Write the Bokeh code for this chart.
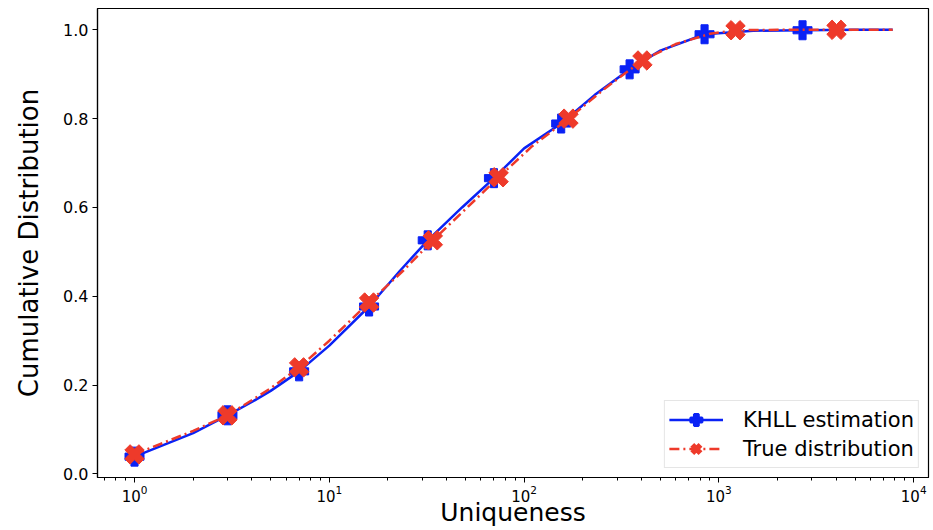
import numpy as np
from bokeh.plotting import figure
from bokeh.models import (Range1d, FixedTicker, PrintfTickFormatter, LogTickFormatter,
                          Legend, LegendItem)
from bokeh.embed import file_html
from bokeh.resources import INLINE

# KHLL estimation curve (solid blue)
khll_x = [1, 2, 3, 4, 5, 7, 10, 16, 23, 32, 48, 70, 100, 155, 230, 348, 500, 844, 1500, 2687, 5000, 7800]
khll_y = [0.039, 0.092, 0.132, 0.162, 0.187, 0.231, 0.289, 0.377, 0.457, 0.526, 0.600, 0.666, 0.733, 0.789, 0.853, 0.911, 0.953, 0.990, 0.998, 0.999, 1.0, 1.0]
# KHLL markers
khll_mx = [1, 3, 7, 16, 32, 70, 155, 348, 844, 2687]
khll_my = [0.039, 0.132, 0.231, 0.377, 0.526, 0.666, 0.789, 0.911, 0.990, 0.999]

# True distribution curve (dash-dot red)
true_x = [1, 2, 3, 4, 5, 7, 10, 16, 24, 34, 50, 74, 110, 169, 260, 405, 600, 900, 1217, 2000, 4016, 7800]
true_y = [0.044, 0.097, 0.132, 0.166, 0.193, 0.240, 0.300, 0.386, 0.458, 0.526, 0.596, 0.668, 0.738, 0.800, 0.868, 0.931, 0.968, 0.991, 0.999, 1.0, 1.0, 1.0]
# True distribution markers
true_mx = [1, 3, 7, 16, 34, 74, 169, 405, 1217, 4016]
true_my = [0.044, 0.132, 0.240, 0.386, 0.526, 0.668, 0.800, 0.931, 0.999, 1.0]

y_ticks = [0.0, 0.2, 0.4, 0.6, 0.8, 1.0]
x_ticks = [1, 10, 100, 1000, 10000]
series_names = ["KHLL estimation", "True distribution"]

BLUE = "#0a22f5"
RED = "#ee3a2a"
FONT = "DejaVu Sans"

p = figure(width=933, height=530, x_axis_type="log",
           x_range=Range1d(10 ** -0.19, 10 ** 4.076),
           y_range=Range1d(-0.008, 1.048),
           output_backend="svg", toolbar_location=None,
           min_border_left=97, min_border_right=5,
           min_border_top=8, min_border_bottom=53)

p.background_fill_color = "white"
p.border_fill_color = "white"
p.outline_line_color = "black"
p.outline_line_width = 1.2
p.xgrid.visible = False
p.ygrid.visible = False

b_line = p.line(khll_x, khll_y, line_color=BLUE, line_width=2.5)
p.scatter(khll_mx, khll_my, marker="plus", size=19, fill_color=BLUE, line_color=BLUE,
          line_width=1)
r_line = p.line(true_x, true_y, line_color=RED, line_width=2.5, line_dash="10 4 2 4")
p.scatter(true_mx, true_my, marker="plus", size=20, angle=np.pi / 4, fill_color=RED,
          line_color=RED, line_width=1)

# legend-only marker renderers (NaN position: nothing drawn inside the plot)
b_leg = p.scatter([np.nan], [np.nan], marker="plus", fill_color=BLUE, line_color=BLUE,
                  line_width=2.5)
r_leg = p.scatter([np.nan], [np.nan], marker="x", line_color=RED, line_width=5.5)

legend = Legend(items=[LegendItem(label=series_names[0], renderers=[b_line, b_leg]),
                       LegendItem(label=series_names[1], renderers=[r_line, r_leg])])
p.add_layout(legend)
legend.location = "bottom_right"
legend.margin = 9
legend.padding = 4
legend.spacing = -3
legend.border_line_color = "#cccccc"
legend.border_line_width = 1
legend.background_fill_alpha = 0.85
legend.label_text_font = FONT
legend.label_text_font_size = "21px"
legend.label_text_color = "black"
legend.glyph_width = 54
legend.glyph_height = 29
legend.label_standoff = 20

minor = [m * 10 ** d for d in range(-1, 4) for m in range(2, 10)]
p.xaxis.ticker = FixedTicker(ticks=x_ticks, minor_ticks=minor)
p.xaxis.formatter = LogTickFormatter()
p.yaxis.ticker = FixedTicker(ticks=y_ticks)
p.yaxis.formatter = PrintfTickFormatter(format="%.1f")
p.yaxis.minor_tick_line_color = None

for ax in (p.xaxis, p.yaxis):
    ax.axis_line_color = "black"
    ax.axis_line_width = 1.2
    ax.major_tick_line_color = "black"
    ax.major_tick_out = 5
    ax.major_tick_in = 0
    ax.minor_tick_out = 3
    ax.minor_tick_in = 0
    ax.major_label_text_font = FONT
    ax.major_label_text_color = "black"
    ax.axis_label_text_font = FONT
    ax.axis_label_text_font_style = "normal"
    ax.axis_label_text_color = "black"

p.xaxis.major_label_text_font_size = "15px"
p.yaxis.major_label_text_font_size = "16px"
p.xaxis.axis_label_text_font_size = "25px"
p.yaxis.axis_label_text_font_size = "26px"

p.xaxis.axis_label = "Uniqueness"
p.yaxis.axis_label = "Cumulative Distribution"
p.xaxis.axis_label_standoff = -7
p.yaxis.axis_label_standoff = 16
p.xaxis.major_label_standoff = 2
p.yaxis.major_label_standoff = 4

open("out.html", "w").write(file_html(p, INLINE))
